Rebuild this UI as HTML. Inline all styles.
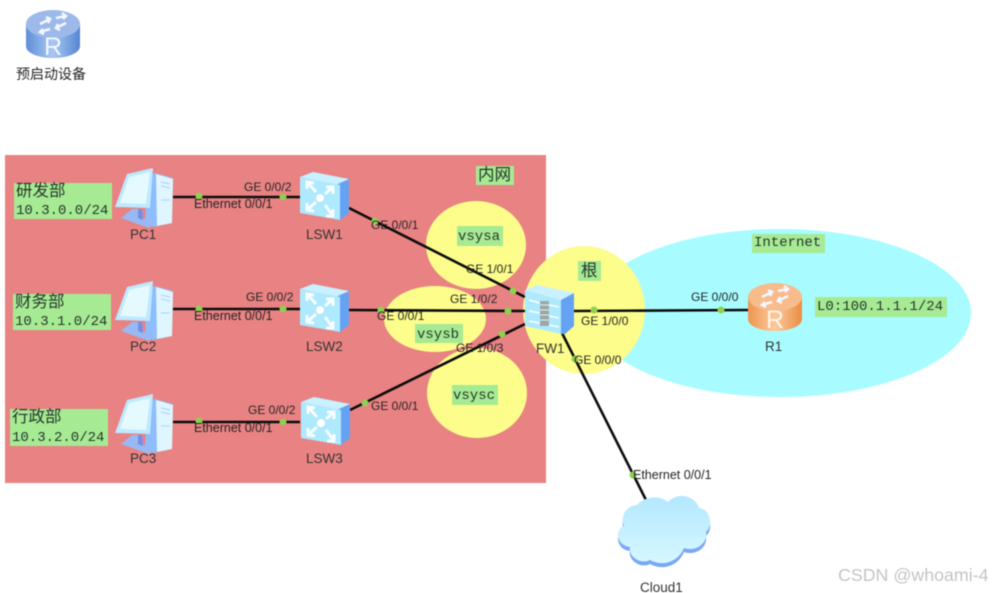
<!DOCTYPE html>
<html>
<head>
<meta charset="utf-8">
<style>
html,body{margin:0;padding:0;background:#fff;width:993px;height:593px;overflow:hidden}
svg{display:block;filter:blur(0.5px)}
text{font-family:"Liberation Sans","Noto Sans CJK SC",sans-serif;font-size:12px;fill:#262626}
.n{font-size:13.5px;fill:#333}
.e{font-size:12.5px}
.m{font-family:"Liberation Mono","Noto Sans CJK SC",monospace;font-size:14px;fill:#26382a}
.c{font-family:"Liberation Sans","Noto Sans CJK SC",sans-serif;font-size:16.5px;fill:#26382a}
.g{fill:#a6ea94}
.l{stroke:#0c0c0c;stroke-width:2.6;fill:none}
.d{fill:#8fd14f}
</style>
</head>
<body>
<svg width="993" height="593" viewBox="0 0 993 593" xmlns="http://www.w3.org/2000/svg">
<defs>
<linearGradient id="rb" x1="0" x2="1" y1="0" y2="0"><stop offset="0" stop-color="#5f8fd8"/><stop offset=".5" stop-color="#a9c8f2"/><stop offset="1" stop-color="#5485d2"/></linearGradient>
<linearGradient id="ro" x1="0" x2="1" y1="0" y2="0"><stop offset="0" stop-color="#ee9650"/><stop offset=".5" stop-color="#fbca9c"/><stop offset="1" stop-color="#ea8c44"/></linearGradient>
<linearGradient id="cl" x1="0" x2="0" y1="0" y2="1"><stop offset="0" stop-color="#b4e8ff"/><stop offset="1" stop-color="#d6f8ff"/></linearGradient>
<symbol id="pc" viewBox="0 0 58 60">
<path d="M32 8 L40 5 L58 10 L57 55 L38 59 L30 55Z" fill="#8fbdfb"/>
<path d="M41 6 L58 11 L57 55 L42 58Z" fill="#dff6ff"/>
<path d="M46 14 L55 16 M46 18 L55 20 M46 32 L55 32" stroke="#a8d2f2" stroke-width="1"/>
<path d="M12 6 L38 0 L35 40 L0 39Z" fill="#bfe9ff"/>
<path d="M14 9 L35 4 L31 36 L5 35Z" fill="#e4faff"/>
<path d="M17 41 L27 41 L28 50 L38 56 L34 60 L6 50Z" fill="#9ab8f4"/>
<path d="M23 41 L27 41 L28 52 L23 50Z" fill="#6f90e6"/>
</symbol>
<symbol id="sw" viewBox="0 0 49 48">
<path d="M0 5 L13 0 L49 7 L36 13Z" fill="#c9f1ff"/>
<path d="M36 13 L49 7 L49 41 L40 48 L36 48Z" fill="#66a2f4"/>
<path d="M0 5 L40 13 L40 48 L0 41Z" fill="#aee9fd"/>
<g stroke="#f6fdff" stroke-width="3" fill="none">
<path d="M7 10 L16 20 M7 38 L16 30 M33 15 L25 22 M33 44 L25 33 M7 17 L7 10 L14 11 M7 31 L7 38 L14 39 M26 15 L33 15 L33 22 M26 44 L33 44 L33 37"/>
</g>
<ellipse cx="20" cy="26" rx="4" ry="4" fill="#fff"/>
</symbol>
<symbol id="arrows" viewBox="0 0 54 28">
<g stroke="#f3f7ff" stroke-width="2.6" fill="none">
<path d="M14 14 L24 9 M20 7 L24 9 L22 13 M40 13 L30 18 M34 20 L30 18 L32 14 M30 8 L40 6 M36 3 L40 6 L37 9 M24 19 L14 22 M18 24 L14 22 L17 19"/>
</g>
</symbol>
</defs>

<rect width="993" height="593" fill="#fff"/>
<rect x="5" y="155" width="541" height="328" fill="#e98282"/>
<ellipse cx="780" cy="313" rx="191" ry="84" fill="#a8fcff"/>
<ellipse cx="476" cy="245" rx="50" ry="44" fill="#fdfd8b"/>
<ellipse cx="435" cy="319" rx="51" ry="33" fill="#fdfd8b"/>
<ellipse cx="477" cy="393" rx="50" ry="45" fill="#fdfd8b"/>
<ellipse cx="584" cy="310" rx="61" ry="64" fill="#fdfd8b"/>

<rect class="g" x="14" y="183" width="98" height="36"/>
<rect class="g" x="13" y="294" width="98" height="36"/>
<rect class="g" x="10" y="409" width="98" height="37"/>
<rect class="g" x="476" y="166" width="38" height="19"/>
<rect class="g" x="457" y="226" width="46" height="20"/>
<rect class="g" x="415" y="324" width="48" height="19"/>
<rect class="g" x="452" y="385" width="46" height="20"/>
<rect class="g" x="578" y="261" width="23" height="20"/>
<rect class="g" x="752" y="234" width="73" height="19"/>
<rect class="g" x="815" y="297" width="132" height="20"/>

<path class="l" d="M173 197 H300"/>
<path class="l" d="M173 309 H300"/>
<path class="l" d="M173 422 H300"/>
<path class="l" d="M349 208 L525 297"/>
<path class="l" d="M349 310 L525 311"/>
<path class="l" d="M350 410 L525 324"/>
<path class="l" d="M574 311 L748 310"/>
<path class="l" d="M562 333 L647 502"/>

<g class="d">
<circle cx="199" cy="196" r="3.5"/><circle cx="283" cy="197" r="3.5"/>
<circle cx="199" cy="309" r="3.5"/><circle cx="283" cy="309" r="3.5"/>
<circle cx="199" cy="421" r="3.5"/><circle cx="283" cy="422" r="3.5"/>
<circle cx="375" cy="221" r="3.5"/><circle cx="513" cy="291" r="3.5"/>
<circle cx="381" cy="310" r="3.5"/><circle cx="508" cy="311" r="3.5"/>
<circle cx="365" cy="403" r="3.5"/><circle cx="502" cy="334" r="3.5"/>
<circle cx="594" cy="310" r="3.5"/><circle cx="721" cy="310" r="3.5"/>
<circle cx="575" cy="359" r="3.5"/><circle cx="633" cy="475" r="3.5"/>
</g>

<!-- top router -->
<path d="M26 24 V46 C26 53 38 58 53 58 C68 58 80 53 80 46 V24Z" fill="url(#rb)"/>
<ellipse cx="53" cy="24" rx="27" ry="14" fill="#9db9ea"/>
<use href="#arrows" x="26" y="10" width="54" height="28"/>
<text x="53" y="55" text-anchor="middle" style="font-size:25px;fill:#f4f7ff">R</text>

<!-- R1 -->
<path d="M748 297 V319 C748 326 760 331 775 331 C790 331 802 326 802 319 V297Z" fill="url(#ro)"/>
<ellipse cx="775" cy="297" rx="27" ry="14" fill="#f8bb8c"/>
<use href="#arrows" x="748" y="283" width="54" height="28"/>
<text x="775" y="328" text-anchor="middle" style="font-size:25px;fill:#fff3e6">R</text>

<use href="#pc" x="115" y="168" width="58" height="60"/>
<use href="#pc" x="115" y="281" width="58" height="60"/>
<use href="#pc" x="115" y="394" width="58" height="60"/>
<use href="#sw" x="300" y="172" width="49" height="48"/>
<use href="#sw" x="300" y="284" width="49" height="48"/>
<use href="#sw" x="301" y="397" width="49" height="48"/>

<!-- FW1 -->
<path d="M525 290 L537 285 L574 293 L561 300Z" fill="#c9f1ff"/>
<path d="M561 300 L574 293 L574 326 L565 334 L561 334Z" fill="#66a2f4"/>
<path d="M525 290 L561 300 L561 334 L525 326Z" fill="#aee9fd"/>
<g stroke="#f2fcff" stroke-width="1.8"><path d="M529 300 L540 303 M529 311 L540 313 M529 321 L540 323 M549 305 L559 307 M549 316 L559 318 M549 325 L559 327"/></g>
<rect x="540" y="301" width="9" height="25" fill="#9aa8a8"/>
<path d="M540 305 H549 M540 310 H549 M540 315 H549 M540 320 H549" stroke="#e4f0f0" stroke-width="1"/>

<!-- Cloud -->
<path transform="translate(0,4)" d="M637 505 C645 496 660 495 668 502 C677 492 695 495 699 508 C710 509 714 525 706 532 C708 544 695 552 684 548 C678 562 663 567 650 560 C640 565 628 556 630 547 C617 546 614 530 624 526 C619 515 628 505 637 505Z" fill="#7ba8f6"/>
<path d="M637 505 C645 496 660 495 668 502 C677 492 695 495 699 508 C710 509 714 525 706 532 C708 544 695 552 684 548 C678 562 663 567 650 560 C640 565 628 556 630 547 C617 546 614 530 624 526 C619 515 628 505 637 505Z" fill="url(#cl)"/>

<text x="16" y="79" style="font-size:14px">预启动设备</text>
<text class="n" x="130" y="239">PC1</text>
<text class="n" x="130" y="351">PC2</text>
<text class="n" x="130" y="463">PC3</text>
<text class="n" x="306" y="239">LSW1</text>
<text class="n" x="306" y="351">LSW2</text>
<text class="n" x="306" y="463">LSW3</text>
<text class="n" x="536" y="353">FW1</text>
<text class="n" x="765" y="351">R1</text>
<text class="n" x="640" y="592">Cloud1</text>

<text class="c" x="16" y="196">研发部</text>
<text class="m" x="16" y="214">10.3.0.0/24</text>
<text class="c" x="15" y="307">财务部</text>
<text class="m" x="15" y="325">10.3.1.0/24</text>
<text class="c" x="12" y="422">行政部</text>
<text class="m" x="12" y="441">10.3.2.0/24</text>
<text class="c" x="478" y="180">内网</text>
<text class="m" x="458" y="240">vsysa</text>
<text class="m" x="417" y="338">vsysb</text>
<text class="m" x="453" y="399">vsysc</text>
<text class="c" x="581" y="276">根</text>
<text class="m" x="754" y="246">Internet</text>
<text class="m" x="817" y="310">L0:100.1.1.1/24</text>

<text x="244" y="191">GE 0/0/2</text>
<text class="e" x="194" y="208">Ethernet 0/0/1</text>
<text x="246" y="301">GE 0/0/2</text>
<text class="e" x="194" y="320">Ethernet 0/0/1</text>
<text x="248" y="414">GE 0/0/2</text>
<text class="e" x="194" y="432">Ethernet 0/0/1</text>
<text x="371" y="229">GE 0/0/1</text>
<text x="466" y="273">GE 1/0/1</text>
<text x="450" y="303">GE 1/0/2</text>
<text x="377" y="320">GE 0/0/1</text>
<text x="456" y="352">GE 1/0/3</text>
<text x="371" y="410">GE 0/0/1</text>
<text x="581" y="325">GE 1/0/0</text>
<text x="574" y="364">GE 0/0/0</text>
<text x="691" y="301">GE 0/0/0</text>
<text class="e" x="633" y="479">Ethernet 0/0/1</text>

<text x="838" y="581" style="font-size:17.8px;fill:#c4c4c4">CSDN @whoami-4</text>
</svg>
</body>
</html>
